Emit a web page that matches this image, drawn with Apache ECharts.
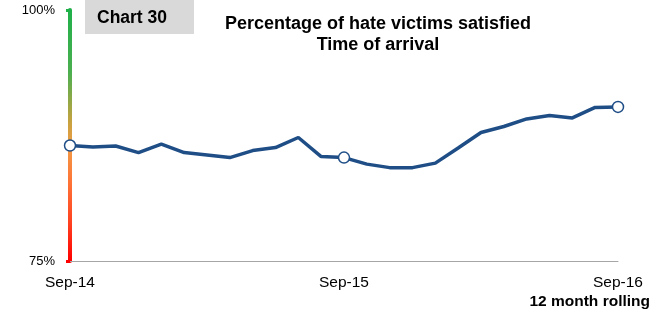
<!DOCTYPE html>
<html>
<head>
<meta charset="utf-8">
<script src="https://cdn.jsdelivr.net/npm/echarts@6/dist/echarts.min.js"></script>
<style>
  html, body { margin: 0; padding: 0; background: #fff; }
  #main { width: 653px; height: 321px; }
</style>
</head>
<body>
<div id="main"></div>
<script>
// months Sep-14 .. Sep-16, 12 month rolling
const months = ['Sep-14', 'Oct-14', 'Nov-14', 'Dec-14', 'Jan-15', 'Feb-15', 'Mar-15', 'Apr-15', 'May-15', 'Jun-15', 'Jul-15', 'Aug-15',
  'Sep-15', 'Oct-15', 'Nov-15', 'Dec-15', 'Jan-16', 'Feb-16', 'Mar-16', 'Apr-16', 'May-16', 'Jun-16', 'Jul-16', 'Aug-16', 'Sep-16']
const satisfied = [86.5, 86.35, 86.45, 85.8, 86.65, 85.8, 85.55, 85.3, 86.0, 86.3, 87.3, 85.4,
  85.3, 84.65, 84.3, 84.3, 84.75, 86.25, 87.8, 88.4, 89.15, 89.5, 89.25, 90.3, 90.35]
const shownLabels = ['Sep-14', 'Sep-15', 'Sep-16']
const markedMonths = ['Sep-14', 'Sep-15', 'Sep-16']

const fontFamily = 'Liberation Sans'

const chart = echarts.init(document.getElementById('main'))

// green -> orange -> red along the y axis (pixel coords)
const axisGradient = new echarts.graphic.LinearGradient(0, 10, 0, 261, [
  { offset: 0, color: '#1fb04a' },
  { offset: 0.25, color: '#4caf50' },
  { offset: 0.45, color: '#c9a23f' },
  { offset: 0.55, color: '#f39a45' },
  { offset: 0.7, color: '#ff7035' },
  { offset: 0.85, color: '#ff4020' },
  { offset: 1, color: '#ff0000' }
], true)

const option = {
  animation: false,
  title: {
    text: 'Percentage of hate victims satisfied\nTime of arrival',
    left: 373,
    top: 9,
    textAlign: 'center',
    textStyle: {
      fontFamily: fontFamily,
      fontWeight: 'bold',
      fontSize: 18,
      lineHeight: 21,
      color: '#000'
    }
  },
  grid: {
    left: 70,
    right: 35,
    top: 10,
    bottom: 60
  },
  xAxis: {
    type: 'category',
    data: months,
    boundaryGap: false,
    axisLine: { lineStyle: { color: '#a6a6a6', width: 1 } },
    axisTick: { show: false },
    axisLabel: {
      interval: 0,
      margin: 14,
      fontFamily: fontFamily,
      fontSize: 15.5,
      color: '#000',
      formatter: v => shownLabels.includes(v) ? v : ''
    },
    splitLine: { show: false }
  },
  yAxis: {
    type: 'value',
    min: 75,
    max: 100,
    interval: 25,
    axisLine: { show: true, lineStyle: { color: axisGradient, width: 4 } },
    axisTick: { show: true, length: 4, lineStyle: { color: axisGradient, width: 3 } },
    axisLabel: {
      margin: 15,
      fontFamily: fontFamily,
      fontSize: 13,
      color: '#000',
      padding: [3, 0, 0, 0],
      formatter: v => v + '%'
    },
    splitLine: { show: false }
  },
  series: [
    {
      type: 'line',
      data: satisfied.map((v, i) => ({
        value: v,
        symbol: markedMonths.includes(months[i]) ? 'circle' : 'none'
      })),
      symbolSize: 11,
      showAllSymbol: true,
      lineStyle: { color: '#1f4e87', width: 3.5 },
      itemStyle: { color: '#fff', borderColor: '#1f4e87', borderWidth: 1.5 },
      z: 5
    }
  ],
  graphic: [
    {
      type: 'rect',
      shape: { x: 85, y: 0, width: 109, height: 34 },
      style: { fill: '#d9d9d9' }
    },
    {
      type: 'text',
      x: 97,
      y: 18,
      style: {
        text: 'Chart 30',
        fontFamily: fontFamily,
        fontWeight: 'bold',
        fontSize: 17.5,
        fill: '#000',
        verticalAlign: 'middle'
      }
    },
    {
      type: 'text',
      x: 650,
      y: 302,
      style: {
        text: '12 month rolling',
        fontFamily: fontFamily,
        fontWeight: 'bold',
        fontSize: 15.5,
        fill: '#000',
        align: 'right',
        verticalAlign: 'middle'
      }
    }
  ]
}

chart.setOption(option)
</script>
</body>
</html>
